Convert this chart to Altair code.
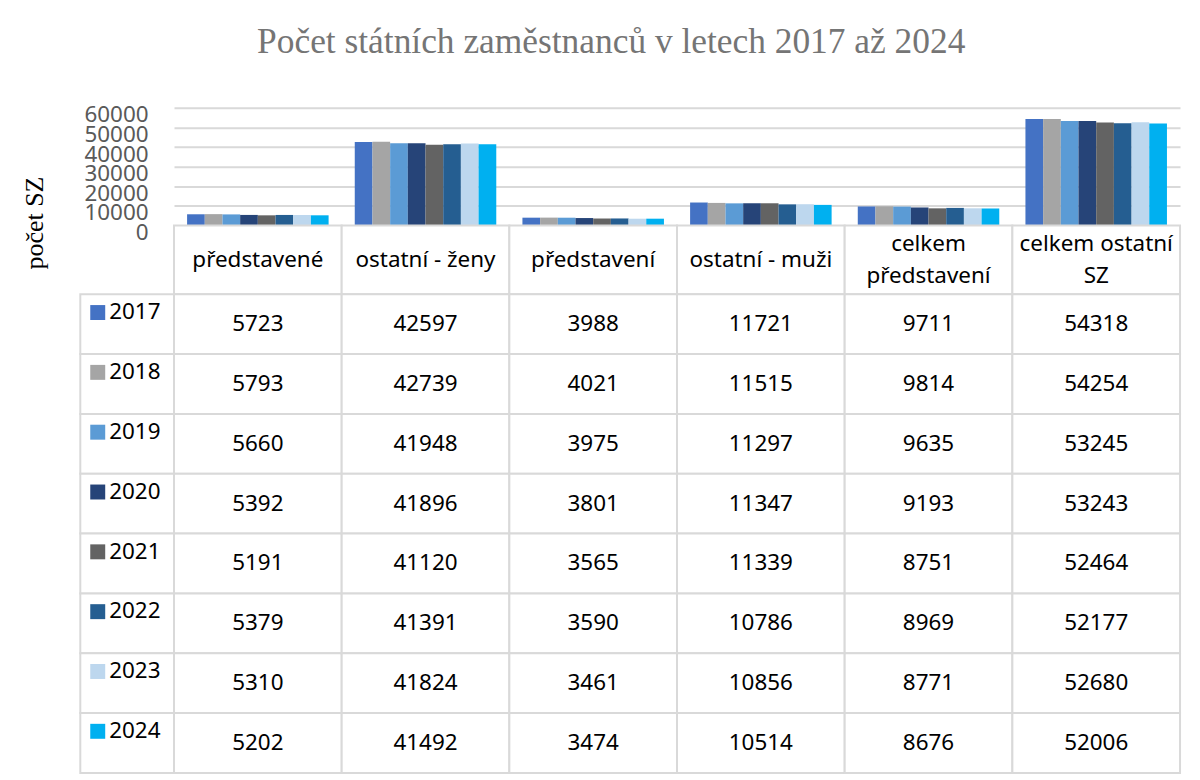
import altair as alt
import pandas as pd

years = ["2017", "2018", "2019", "2020", "2021", "2022", "2023", "2024"]
categories = ["představené", "ostatní - ženy", "představení", "ostatní - muži",
              "celkem představení", "celkem ostatní SZ"]
header_labels = ["představené", "ostatní - ženy", "představení", "ostatní - muži",
                 "celkem\npředstavení", "celkem ostatní\nSZ"]
colors = ["#4472C4", "#A5A5A5", "#5B9BD5", "#264478", "#636363", "#255E91", "#BDD7EE", "#00B0F0"]
y_ticks = [0, 10000, 20000, 30000, 40000, 50000, 60000]

predstavene = [5723, 5793, 5660, 5392, 5191, 5379, 5310, 5202]
ostatni_zeny = [42597, 42739, 41948, 41896, 41120, 41391, 41824, 41492]
predstaveni = [3988, 4021, 3975, 3801, 3565, 3590, 3461, 3474]
ostatni_muzi = [11721, 11515, 11297, 11347, 11339, 10786, 10856, 10514]
celkem_predstaveni = [9711, 9814, 9635, 9193, 8751, 8969, 8771, 8676]
celkem_ostatni = [54318, 54254, 53245, 53243, 52464, 52177, 52680, 52006]

series = [predstavene, ostatni_zeny, predstaveni, ostatni_muzi, celkem_predstaveni, celkem_ostatni]

rows = []
for cat, vals in zip(categories, series):
    for yr, v in zip(years, vals):
        rows.append({"kategorie": cat, "rok": yr, "pocet": v})
df = pd.DataFrame(rows)
df_head = pd.DataFrame({"kategorie": categories, "popis": header_labels})
df_years = pd.DataFrame({"rok": years})

W_LEG = 94
W = 1009
H_BAR = 118
H_HEAD = 69
H_TAB = 480

GRID = "#D9D9D9"
FONT = "Noto Sans"
SERIF = "Liberation Serif"
TXT = "#000000"
FS = 22.5
LH = 32

color = alt.Color("rok:N", scale=alt.Scale(domain=years, range=colors), legend=None)

bars = alt.Chart(df).mark_bar().encode(
    x=alt.X("kategorie:N", sort=categories,
            scale=alt.Scale(paddingInner=0.156, paddingOuter=0.078), axis=None),
    xOffset=alt.XOffset("rok:N", sort=years, scale=alt.Scale(paddingInner=0, paddingOuter=0)),
    y=alt.Y("pocet:Q", scale=alt.Scale(domain=[0, 60000], nice=False),
            axis=alt.Axis(values=y_ticks, format="d", title="počet SZ", titleFont=SERIF,
                          titleFontSize=26, titleFontWeight="normal", titleColor=TXT,
                          titleAngle=270, titleX=-132, titleY=115, titleBaseline="alphabetic",
                          titleAlign="center",
                          labelFont=FONT, labelFontSize=FS, labelColor="#595959",
                          labelOverlap=False, labelFlush=False, labelOffset=7, labelPadding=26,
                          ticks=False, domain=False, grid=True, gridColor=GRID, gridWidth=2)),
    color=color,
).properties(width=W, height=H_BAR)

head_x = alt.X("kategorie:N", sort=categories, scale=alt.Scale(padding=0), axis=None)
head_cells = alt.Chart(df_head).mark_rect(fill="white", stroke=GRID, strokeWidth=2).encode(x=head_x)
head_one = alt.Chart(df_head).transform_filter(
    "indexof(datum.popis, '\\n') < 0"
).mark_text(font=FONT, fontSize=FS, baseline="middle", color=TXT).encode(
    x=head_x, text="popis:N")
head_two = alt.Chart(df_head).transform_filter(
    "indexof(datum.popis, '\\n') >= 0"
).mark_text(font=FONT, fontSize=FS, lineBreak="\n", lineHeight=LH, baseline="middle",
            dy=-LH / 2, color=TXT).encode(
    x=head_x, text="popis:N")
header = alt.layer(head_cells, head_one, head_two).properties(width=W, height=H_HEAD)

tab_x = alt.X("kategorie:N", sort=categories, scale=alt.Scale(padding=0), axis=None)
tab_y = alt.Y("rok:N", sort=years, scale=alt.Scale(padding=0), axis=None)
cells = alt.Chart(df).mark_rect(fill="white", stroke=GRID, strokeWidth=2).encode(x=tab_x, y=tab_y)
vals = alt.Chart(df).mark_text(font=FONT, fontSize=FS, color=TXT, baseline="middle").encode(
    x=tab_x, y=tab_y, text=alt.Text("pocet:Q", format="d"))
table = alt.layer(cells, vals).properties(width=W, height=H_TAB)

leg_y = alt.Y("rok:N", sort=years, scale=alt.Scale(padding=0), axis=None)
leg_cells = alt.Chart(df_years).mark_rect(fill="white", stroke=GRID, strokeWidth=2).encode(y=leg_y)
leg_sq = alt.Chart(df_years).mark_square(size=225, opacity=1, strokeWidth=0,
                                         xOffset=-29.5, yOffset=-11.7).encode(y=leg_y, color=color)
leg_txt = alt.Chart(df_years).mark_text(font=FONT, fontSize=FS, align="left", baseline="middle",
                                        dx=-18, dy=-12, color=TXT).encode(y=leg_y, text="rok:N")
legcol = alt.layer(leg_cells, leg_sq, leg_txt).properties(width=W_LEG, height=H_TAB)


def spacer(h):
    return alt.Chart(df_years).mark_rect().encode(opacity=alt.value(0)).properties(width=W_LEG, height=h)


chart = alt.concat(
    spacer(H_BAR), bars,
    spacer(H_HEAD), header,
    legcol, table,
    columns=2, spacing=0, bounds="flush",
).properties(
    title=alt.Title("Počet státních zaměstnanců v letech 2017 až 2024", font=SERIF, fontSize=35.5,
                    fontWeight="normal", color="#757575", anchor="middle", offset=43, dx=10),
    padding={"left": 12.5, "top": 16, "right": 10, "bottom": 5},
).configure_view(stroke="transparent")

chart.save("out.html", embed_options={"renderer": "svg", "actions": False})
